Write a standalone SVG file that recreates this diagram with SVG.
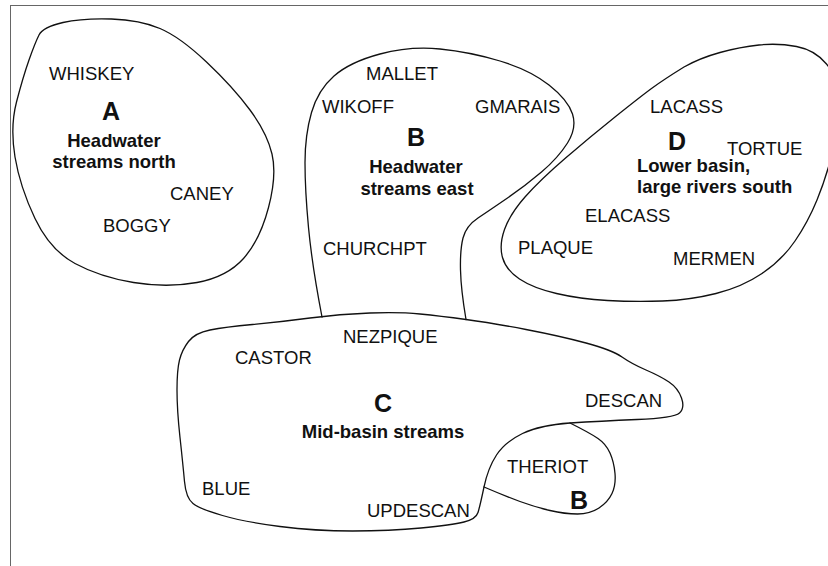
<svg xmlns="http://www.w3.org/2000/svg" width="828" height="566" viewBox="0 0 828 566">
<style>
.frame{fill:none;stroke:#666;stroke-width:1}
.outline{fill:none;stroke:#111;stroke-width:1.3;stroke-linejoin:round;stroke-linecap:round}
.lbl{font-family:"Liberation Sans",Arial,sans-serif;font-size:18.5px;fill:#111}
.cap{font-family:"Liberation Sans",Arial,sans-serif;font-size:18.5px;font-weight:bold;fill:#111}
.big{font-family:"Liberation Sans",Arial,sans-serif;font-size:25px;font-weight:bold;fill:#111}
.mid{text-anchor:middle}
</style>
<rect width="828" height="566" fill="#fff"/>
<g id="frame">
<path class="frame" d="M10,5.5 H828 M10.5,5 V566"/>
</g>
<g id="node-A">
<path class="outline" d="M29,60 Q35,43 39,35 Q43,27 63,22.5 Q83,18 111.5,19 Q140,20 160,28.5 Q180,37 206.5,62 Q233,87 250,110 Q267,133 272,154 Q277,175 268.5,207.5 Q260,240 243.5,258.5 Q227,277 197,282.5 Q167,288 133.5,282.5 Q100,277 75,263.5 Q50,250 35,218.5 Q20,187 15,157 Q10,127 16.5,102 Q23,77 29,60 Z"/>
<text class="lbl" x="49" y="80">WHISKEY</text>
<text class="big mid" x="111" y="120">A</text>
<text class="cap mid" x="114" y="147">Headwater</text>
<text class="cap mid" x="114" y="168">streams north</text>
<text class="lbl" x="170" y="200">CANEY</text>
<text class="lbl" x="103" y="232">BOGGY</text>
</g>
<g id="node-B">
<path class="outline" d="M322,317 Q312,265 308.5,227.5 Q305,190 305,162.5 Q305,135 311.5,112.5 Q318,90 334,76 Q350,62 380,54 Q410,46 440,49 Q470,52 500,61 Q530,70 549,85 Q568,100 572.5,114 Q577,128 567.5,143 Q558,158 541.5,172 Q525,186 507.5,198 Q490,210 478,218 Q466,226 463,238 Q460,250 460.5,270 Q461,290 466,319.5"/>
<text class="lbl" x="366" y="80">MALLET</text>
<text class="lbl" x="322" y="113">WIKOFF</text>
<text class="lbl" x="475" y="113">GMARAIS</text>
<text class="big mid" x="416" y="146">B</text>
<text class="cap mid" x="416" y="173">Headwater</text>
<text class="cap mid" x="417" y="195">streams east</text>
<text class="lbl" x="323" y="255">CHURCHPT</text>
</g>
<g id="node-D">
<path class="outline" d="M684,67 Q700,58 720,52.5 Q740,47 759,45 Q778,43 796.5,46.5 Q815,50 826.5,64 Q838,78 838,104 Q838,130 832,154 Q826,178 817,200 Q808,222 795,241 Q782,260 762,273.5 Q742,287 716,293.5 Q690,300 662.5,301 Q635,302 607.5,300.5 Q580,299 556.5,293.5 Q533,288 519.5,279 Q506,270 502.5,257.5 Q499,245 504.5,229.5 Q510,214 525,197 Q540,180 565,158.5 Q590,137 615,117 Q640,97 651.5,88.5 Q663,80 684,67 Z"/>
<text class="lbl" x="650" y="113">LACASS</text>
<text class="big mid" x="677" y="150">D</text>
<text class="lbl" x="727" y="155">TORTUE</text>
<text class="cap" x="637" y="172">Lower basin,</text>
<text class="cap" x="637" y="193">large rivers south</text>
<text class="lbl" x="585" y="222">ELACASS</text>
<text class="lbl" x="518" y="254">PLAQUE</text>
<text class="lbl" x="673" y="265">MERMEN</text>
</g>
<g id="node-C">
<path class="outline" d="M179.5,360 Q182,350 188.5,341.5 Q195,333 210,330 Q225,327 252.5,324.5 Q280,322 310,318 Q340,314 370,313 Q400,312 420,314 Q440,316 466,319.5 Q492,323 526,329.5 Q560,336 586,343 Q612,350 622,357 Q632,364 646,370 Q660,376 669,382 Q678,388 681.5,398 Q685,408 679.5,413 Q674,418 637,419.5 Q600,421 570,423 Q540,425 522.5,433.5 Q505,442 496.5,455 Q488,468 484,487 Q480,506 478,512.5 Q476,519 464,522 Q452,525 421,528 Q390,531 352.5,531 Q315,531 280,526.5 Q245,522 222.5,515.5 Q200,509 193,503.5 Q186,498 184.5,481.5 Q183,465 180,437.5 Q177,410 177,390 Q177,370 179.5,360 Z"/>
<text class="lbl" x="343" y="343">NEZPIQUE</text>
<text class="lbl" x="235" y="364">CASTOR</text>
<text class="big mid" x="383" y="412">C</text>
<text class="cap mid" x="383" y="438">Mid-basin streams</text>
<text class="lbl" x="585" y="407">DESCAN</text>
<text class="lbl" x="202" y="495">BLUE</text>
<text class="lbl" x="367" y="517">UPDESCAN</text>
</g>
<g id="node-B2">
<path class="outline" d="M570,423 Q590,433 598,438.5 Q606,444 610,453 Q614,462 615,473.5 Q616,485 612,493.5 Q608,502 599,508 Q590,514 577.5,514 Q565,514 550,510.5 Q535,507 520,501.5 Q505,496 484,487"/>
<text class="lbl" x="507" y="473">THERIOT</text>
<text class="big mid" x="579" y="509">B</text>
</g>
<g id="connectors"/>
</svg>
